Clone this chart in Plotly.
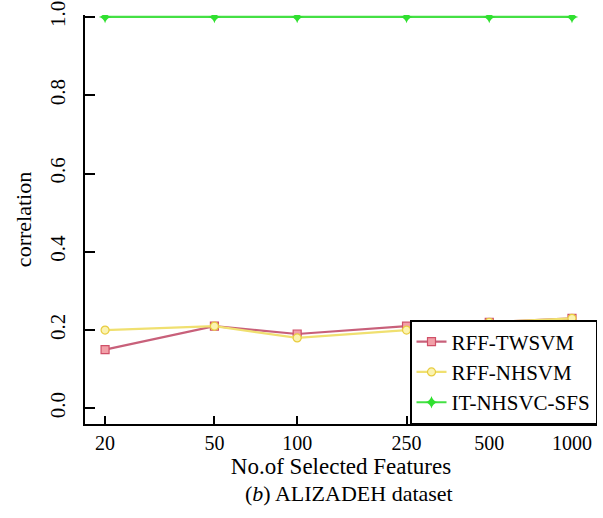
import plotly.graph_objects as go

features = [20, 50, 100, 250, 500, 1000]
rff_twsvm = [0.15, 0.21, 0.19, 0.21, 0.22, 0.23]
rff_nhsvm = [0.20, 0.21, 0.18, 0.20, 0.22, 0.23]
it_nhsvc_sfs = [1.0, 1.0, 1.0, 1.0, 1.0, 1.0]
y_ticks = [0.0, 0.2, 0.4, 0.6, 0.8, 1.0]
y_ticklabels = ["0.0", "0.2", "0.4", "0.6", "0.8", "1.0"]

FONT = "Liberation Serif, Times New Roman, serif"

fig = go.Figure()
fig.add_trace(go.Scatter(
    x=features, y=rff_twsvm, name="RFF-TWSVM", mode="lines+markers",
    line=dict(color="#c8607a", width=2.2),
    marker=dict(symbol="square", size=8, color="#f2a0a8",
                line=dict(color="#d05068", width=1.2)),
))
fig.add_trace(go.Scatter(
    x=features, y=rff_nhsvm, name="RFF-NHSVM", mode="lines+markers",
    line=dict(color="#f0e070", width=2.2),
    marker=dict(symbol="circle", size=8, color="#fbf3b0",
                line=dict(color="#e8cc40", width=1.2)),
))
fig.add_trace(go.Scatter(
    x=features, y=it_nhsvc_sfs, name="IT-NHSVC-SFS", mode="lines+markers",
    line=dict(color="#44e044", width=2.2),
    marker=dict(symbol="star-diamond", size=9, color="#30e030",
                line=dict(width=0)),
))

fig.update_layout(
    width=603, height=518,
    margin=dict(l=85, r=6, t=15, b=94),
    paper_bgcolor="white", plot_bgcolor="white",
    font=dict(family=FONT, size=20, color="black"),
    showlegend=True,
    legend=dict(
        x=1.0, y=0.0, xanchor="right", yanchor="bottom",
        bgcolor="white", bordercolor="black", borderwidth=1.5,
        font=dict(family=FONT, size=21, color="black"),
        tracegroupgap=0, itemwidth=30,
    ),
    xaxis=dict(
        type="log", range=[1.228, 3.091], automargin=False,
        tickvals=features, ticktext=[str(v) for v in features],
        ticks="inside", ticklen=8, tickwidth=1.5, tickcolor="black",
        showline=True, linecolor="black", linewidth=1.5,
        showgrid=False, zeroline=False,
        tickfont=dict(family=FONT, size=20),
        title=dict(text="No.of Selected Features", font=dict(family=FONT, size=23), standoff=4),
    ),
    yaxis=dict(
        range=[-0.04, 1.005], automargin=False,
        tickvals=y_ticks, ticktext=y_ticklabels, tickangle=-90,
        ticks="inside", ticklen=10, tickwidth=1.5, tickcolor="black",
        showline=True, linecolor="black", linewidth=1.5,
        showgrid=False, zeroline=False, ticklabelstandoff=10,
        ticklabeloverflow="allow",
        tickfont=dict(family=FONT, size=21),
        title=dict(text="correlation", font=dict(family=FONT, size=22), standoff=8),
    ),
    annotations=[dict(
        text="(<i>b</i>) ALIZADEH dataset", xref="paper", yref="paper",
        x=0.516, y=-0.171, xanchor="center", yanchor="middle", showarrow=False,
        font=dict(family=FONT, size=22, color="black"),
    )],
)

fig.write_html("out.html", config={"displayModeBar": False},
               post_script="document.body.style.margin='0';")
